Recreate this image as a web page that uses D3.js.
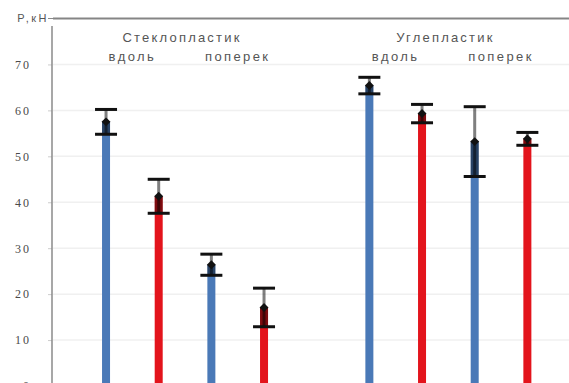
<!DOCTYPE html>
<html>
<head>
<meta charset="utf-8">
<script src="https://cdn.jsdelivr.net/npm/d3@7"></script>
<style>
  html, body { margin: 0; padding: 0; background: #fff; }
  svg { display: block; }
  text { font-family: "Liberation Sans", Arial, sans-serif; fill: #555; }
</style>
</head>
<body>
<svg id="chart" width="569" height="383"></svg>
<script>
// Breaking load P (kN) for two laminates, along and across the fibres, two specimen series each
const materials = ["Стеклопластик", "Углепластик"];
const directions = ["вдоль", "поперек"];
const series = ["серия 1", "серия 2"];
const seriesColors = ["#4a79b7", "#e3141c"];

// mean load per bar, order: material -> direction -> series
const means  = [57.5, 41.3, 26.4, 17.1, 65.4, 59.3, 53.2, 53.8];
const errors = [ 2.7,  3.7,  2.3,  4.2,  1.8,  2.0,  7.6,  1.4];

const yTicks = [0, 10, 20, 30, 40, 50, 60, 70];
const yMax = 80;
const yTitle = "P,кН";

const bars = [];
let k = 0;
materials.forEach(m => directions.forEach(d => series.forEach((s, si) => {
  bars.push({ material: m, direction: d, series: s, si, mean: means[k], err: errors[k] });
  k++;
})));

const svg = d3.select("#chart");

const y = d3.scaleLinear().domain([0, yMax]).range([386, 18.5]);

const xGroup = d3.scaleBand().domain(materials).range([79.7, 553.7]).paddingInner(0.2);
const innerKeys = [];
directions.forEach(d => series.forEach(s => innerKeys.push(d + "|" + s)));
const xInner = d3.scaleBand().domain(innerKeys).range([0, xGroup.bandwidth()]);
const cx = b => xGroup(b.material) + xInner(b.direction + "|" + b.series) + xInner.bandwidth() / 2;

// faint horizontal gridlines
svg.append("g")
  .selectAll("line")
  .data(yTicks.filter(v => v > 0))
  .join("line")
  .attr("x1", 53).attr("x2", 569)
  .attr("y1", d => y(d)).attr("y2", d => y(d))
  .attr("stroke", "#f0f0f0").attr("stroke-width", 1.5);

// top boundary line at the axis maximum
svg.append("line")
  .attr("x1", 53).attr("x2", 569)
  .attr("y1", y(yMax)).attr("y2", y(yMax))
  .attr("stroke", "#858585").attr("stroke-width", 2.2);

// y axis
const yAxis = d3.axisLeft(y).tickValues(yTicks).tickSize(4).tickPadding(17).tickFormat(d3.format("d"));
const gy = svg.append("g").attr("transform", "translate(52,0)").call(yAxis);
gy.select(".domain").remove();
gy.selectAll(".tick line").attr("stroke", "#ccc");
gy.selectAll(".tick text")
  .style("font-size", "12px").style("letter-spacing", "2px")
  .style("fill", "#4a4a4a").style("font-family", "'Liberation Serif', serif");
svg.append("line")
  .attr("x1", 52).attr("x2", 52)
  .attr("y1", 26).attr("y2", 386)
  .attr("stroke", "#8a8a8a").attr("stroke-width", 1.5);

svg.append("text")
  .attr("x", 49).attr("y", y(yMax)).attr("dy", "0.35em")
  .attr("text-anchor", "end")
  .style("font-size", "11px").style("letter-spacing", "2.5px")
  .text(yTitle);
svg.append("line")
  .attr("x1", 48).attr("x2", 53)
  .attr("y1", y(yMax)).attr("y2", y(yMax))
  .attr("stroke", "#8a8a8a").attr("stroke-width", 1);

// category labels
materials.forEach(m => {
  svg.append("text")
    .attr("x", xGroup(m) + xGroup.bandwidth() / 2 - 3).attr("y", 42)
    .attr("text-anchor", "middle")
    .style("font-size", "13px").style("letter-spacing", "2.2px")
    .text(m);
  directions.forEach(d => {
    const pair = bars.filter(b => b.material === m && b.direction === d);
    const mid = d3.mean(pair, cx);
    svg.append("text")
      .attr("x", mid).attr("y", 61)
      .attr("text-anchor", "middle")
      .style("font-size", "13px").style("letter-spacing", "2.4px")
      .text(d);
  });
});

const barW = 8;
const capW = 22;

// bars up to the mean value
svg.append("g")
  .selectAll("rect")
  .data(bars)
  .join("rect")
  .attr("x", d => cx(d) - barW / 2)
  .attr("width", barW)
  .attr("y", d => y(d.mean))
  .attr("height", d => y(0) - y(d.mean))
  .attr("fill", d => seriesColors[d.si]);

// error bars
const eg = svg.append("g");
eg.selectAll("rect.low")
  .data(bars)
  .join("rect")
  .attr("class", "low")
  .attr("x", d => cx(d) - barW / 2)
  .attr("width", barW)
  .attr("y", d => y(d.mean))
  .attr("height", d => y(d.mean - d.err) - y(d.mean))
  .attr("fill", "#000").attr("fill-opacity", 0.45);
eg.selectAll("line.stem")
  .data(bars)
  .join("line")
  .attr("class", "stem")
  .attr("x1", cx).attr("x2", cx)
  .attr("y1", d => y(d.mean + d.err)).attr("y2", d => y(d.mean - d.err))
  .attr("stroke", "#000").attr("stroke-opacity", 0.5).attr("stroke-width", 3);
[1, -1].forEach(sign => {
  eg.selectAll("line.cap" + (sign > 0 ? "u" : "d"))
    .data(bars)
    .join("line")
    .attr("class", "cap" + (sign > 0 ? "u" : "d"))
    .attr("x1", d => cx(d) - capW / 2).attr("x2", d => cx(d) + capW / 2)
    .attr("y1", d => y(d.mean + sign * d.err)).attr("y2", d => y(d.mean + sign * d.err))
    .attr("stroke", "#111").attr("stroke-width", 3);
});

// mean markers: square diamonds
svg.append("g")
  .selectAll("path")
  .data(bars)
  .join("path")
  .attr("transform", d => `translate(${cx(d)},${y(d.mean)}) rotate(45)`)
  .attr("d", d3.symbol(d3.symbolSquare, 40))
  .attr("fill", "#111");
</script>
</body>
</html>
